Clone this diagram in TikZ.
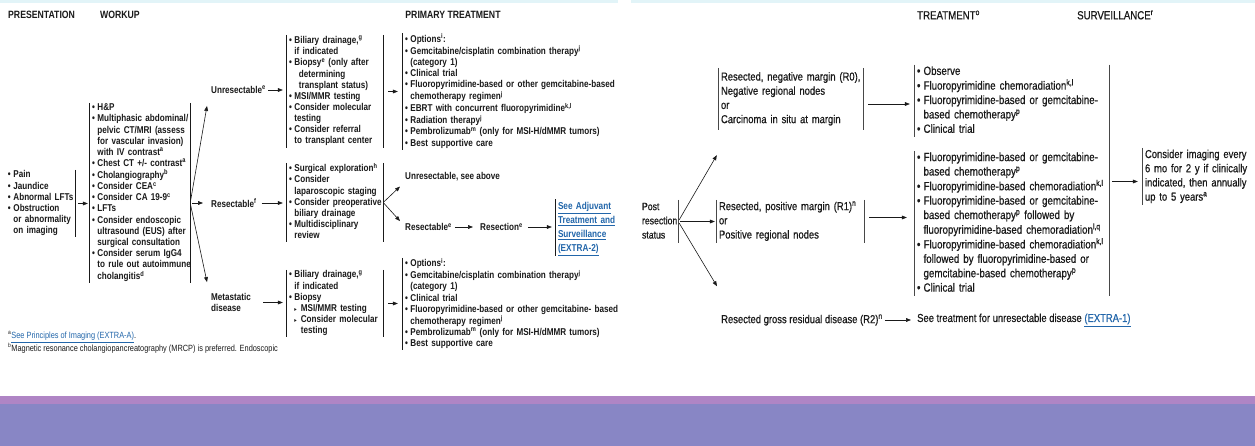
\documentclass[tikz,border=0pt]{standalone}
\usepackage{fontspec}
\setmainfont{Liberation Sans}[FakeStretch=0.82]
\newfontfamily\rfam{Liberation Sans}[FakeStretch=0.82, FakeBold=0.6]
\newfontfamily\symfont{DejaVu Sans}[FakeStretch=0.82]
\usetikzlibrary{arrows.meta,calc}

\definecolor{ink}{HTML}{1A1A1A}
\definecolor{linkblue}{HTML}{2266AA}
\definecolor{lilac}{HTML}{AF85C5}
\definecolor{periwinkle}{HTML}{8886C5}
\definecolor{palecyan}{HTML}{E2F4F8}

% bullet, continuation indent, sub-bullet, superscript, link
\newcommand\bu{\makebox[0.55em][l]{\textbullet}}
\newcommand\ci{\hspace*{0.55em}}
\newcommand\tri{\makebox[0.65em][l]{{\symfont\fontsize{6}{6}\selectfont ▸}}}
\newcommand\sps[1]{\textsuperscript{#1}}
\newcommand\lnk[1]{\textcolor{linkblue}{\underline{#1}}}
\newcommand\rows[1]{\begin{tabular}{@{}l@{}}#1\end{tabular}}

\tikzset{
  lfont/.style={font=\fontsize{9.9}{11.15}\selectfont\bfseries},
  rfont/.style={font=\rfam\fontsize{11.5}{14.2}\selectfont},
  tfont/.style={font=\rfam\fontsize{11.9}{14.4}\selectfont},
  blk/.style={inner xsep=2pt, inner ysep=0pt, align=left, text=ink},
  lbl/.style={inner sep=0pt, anchor=west, align=left, text=ink},
  lhead/.style={lbl, font=\fontsize{10.6}{12}\selectfont\bfseries},
  rhead/.style={lbl, font=\rfam\fontsize{11.8}{13}\selectfont},
  bar/.style={draw=ink, line width=1pt},
  rbar/.style={draw=ink!80, line width=0.8pt},
  arr/.style={draw=ink, line width=0.6pt, -{Triangle[length=5pt,width=3.8pt]}},
}

\begin{document}
\begin{tikzpicture}[x=1pt, y=-1pt]
\useasboundingbox (0,0) rectangle (1255,446);
\fill[white] (0,0) rectangle (1255,446);
\fill[palecyan] (0,0) rectangle (618,3);
\fill[palecyan] (631,0) rectangle (1255,3);
\fill[lilac] (0,396) rectangle (1255,404);
\fill[periwinkle] (0,404) rectangle (1255,446);

% ---------- left panel: headings ----------
\node[lhead] (hpres) at (8,15) {PRESENTATION};
\node[lhead] (hwork) at (100,15) {WORKUP};
\node[lhead, anchor=center] (hprim) at (453,15) {PRIMARY TREATMENT};

% ---------- left panel: boxes ----------
\node[blk, lfont, text width=65pt, minimum height=67pt] (pres) at (40.5,203.5) {\rows{%
\bu Pain\\
\bu Jaundice\\
\bu Abnormal LFTs\\
\bu Obstruction\\
\ci or abnormality\\
\ci on imaging}};

\node[blk, lfont, text width=96pt, minimum height=180pt] (work) at (140,193) {\rows{%
\bu H\&P\\
\bu Multiphasic abdominal/\\
\ci pelvic CT/MRI (assess\\
\ci for vascular invasion)\\
\ci with IV contrast\sps{a}\\
\bu Chest CT +/- contrast\sps{a}\\
\bu Cholangiography\sps{b}\\
\bu Consider CEA\sps{c}\\
\bu Consider CA 19-9\sps{c}\\
\bu LFTs\\
\bu Consider endoscopic\\
\ci ultrasound (EUS) after\\
\ci surgical consultation\\
\bu Consider serum IgG4\\
\ci to rule out autoimmune\\
\ci cholangitis\sps{d}}};

\node[lbl, lfont] (unres) at (211,90) {Unresectable\sps{e}};
\node[lbl, lfont] (resec) at (211,203) {Resectable\sps{f}};
\node[lbl, lfont] (meta) at (211,302.5) {Metastatic\\disease};

\node[blk, lfont, text width=92pt, minimum height=113pt] (c3a) at (335,91.5) {\rows{%
\bu Biliary drainage,\sps{g}\\
\ci if indicated\\
\bu Biopsy\sps{e} (only after\\
\ci\hspace*{4.5pt}determining\\
\ci\hspace*{4.5pt}transplant status)\\
\bu MSI/MMR testing\\
\bu Consider molecular\\
\ci testing\\
\bu Consider referral\\
\ci to transplant center}};

\node[blk, lfont, text width=92pt, minimum height=79pt] (c3b) at (335,202.5) {\rows{%
\bu Surgical exploration\sps{h}\\
\bu Consider\\
\ci laparoscopic staging\\
\bu Consider preoperative\\
\ci biliary drainage\\
\bu Multidisciplinary\\
\ci review}};

\node[blk, lfont, text width=92pt, minimum height=67pt] (c3c) at (335,303.5) {\rows{%
\bu Biliary drainage,\sps{g}\\
\ci if indicated\\
\bu Biopsy\\
\ci\tri MSI/MMR testing\\
\ci\tri Consider molecular\\
\ci\hspace*{0.65em}testing}};

\node[blk, lfont, text width=218pt, minimum height=113pt] (c4a) at (514,91.5) {\rows{%
\bu Options\sps{i}:\\
\bu Gemcitabine/cisplatin combination therapy\sps{j}\\
\ci (category 1)\\
\bu Clinical trial\\
\bu Fluoropyrimidine-based or other gemcitabine-based\\
\ci chemotherapy regimen\sps{j}\\
\bu EBRT with concurrent fluoropyrimidine\sps{k,l}\\
\bu Radiation therapy\sps{j}\\
\bu Pembrolizumab\sps{m} (only for MSI-H/dMMR tumors)\\
\bu Best supportive care}};

\node[blk, lfont, text width=218pt, minimum height=88pt] (c4c) at (514,304) {\rows{%
\bu Options\sps{i}:\\
\bu Gemcitabine/cisplatin combination therapy\sps{j}\\
\ci (category 1)\\
\bu Clinical trial\\
\bu Fluoropyrimidine-based or other gemcitabine- based\\
\ci chemotherapy regimen\sps{j}\\
\bu Pembrolizumab\sps{m} (only for MSI-H/dMMR tumors)\\
\bu Best supportive care}};

\node[lbl, lfont] (unsa) at (405,177) {Unresectable, see above};
\node[lbl, lfont] (res2) at (405,227) {Resectable\sps{e}};
\node[lbl, lfont] (resn) at (480,227) {Resection\sps{e}};
\node[blk, font=\fontsize{10}{14}\selectfont\bfseries, text width=62pt, minimum height=55pt] (adj) at (589,227.5) {\rows{%
\lnk{See Adjuvant}\\
\lnk{Treatment and}\\
\lnk{Surveillance}\\
\lnk{(EXTRA-2)}}};

% footnotes
\node[lbl, font=\fontsize{9}{10}\selectfont, anchor=north west] (fn) at (8,331.5) {%
\sps{a}\lnk{See Principles of Imaging (EXTRA-A)}.\\
\sps{b}Magnetic resonance cholangiopancreatography (MRCP) is preferred. Endoscopic};

% bars of the left panel
\foreach \n in {work,c3a,c3b,c3c}
  \draw[bar] (\n.north west) -- (\n.south west) (\n.north east) -- (\n.south east);
\foreach \n in {c4a,c4c,adj}
  \draw[bar] (\n.north west) -- (\n.south west);
\draw[bar] (pres.north east) -- (pres.south east);

% connectors of the left panel
\draw[arr, shorten <=3pt, shorten >=2pt] (pres.east) -- (pres.east -| work.west);
\coordinate (wb) at ([yshift=-10pt]work.east);
\draw[arr, shorten <=2pt] (wb) -- ([xshift=-4pt,yshift=-12pt]unres.south west);
\draw[arr, shorten <=2pt] (wb) -- ([xshift=-8pt]resec.west);
\draw[arr, shorten <=2pt] (wb) -- ([xshift=-4pt,yshift=11pt]meta.north west);
\draw[arr, shorten <=2pt, shorten >=4pt] (unres.east) -- (unres.east -| c3a.west);
\draw[arr, shorten <=5pt, shorten >=4pt] (resec.east) -- (resec.east -| c3b.west);
\draw[arr, shorten <=12pt, shorten >=4pt] (meta.east) -- (meta.east -| c3c.west);
\draw[arr, shorten <=5pt, shorten >=5pt] (c3a.east) -- (c3a.east -| c4a.west);
\draw[arr, shorten <=5pt, shorten >=5pt] (c3c.east) -- (c3c.east -| c4c.west);
\draw[arr, shorten <=1pt] (c3b.east) -- ([xshift=-5pt,yshift=-5pt]unsa.south west);
\draw[arr, shorten <=1pt] (c3b.east) -- ([xshift=-5pt,yshift=2pt]res2.north west);
\draw[arr, shorten <=3pt, shorten >=7pt] (res2.east) -- (resn.west);
\draw[arr, shorten <=5pt, shorten >=4pt] (resn.east) -- (resn.east -| adj.west);

% ---------- right panel ----------
\node[rhead] (htreat) at (917,15) {TREATMENT\sps{o}};
\node[rhead] (hsurv) at (1077,15) {SURVEILLANCE\sps{r}};

\node[blk, font=\rfam\fontsize{10.6}{14.2}\selectfont, text width=34pt, minimum height=43pt] (post) at (659,221.5) {\rows{%
Post\\resection\\status}};

\node[blk, rfont, text width=140pt, minimum height=62pt] (R0) at (791,99) {\rows{%
Resected, negative margin (R0),\\
Negative regional nodes\\
or\\
Carcinoma in situ at margin}};

\node[blk, rfont, text width=143pt, minimum height=43pt] (R1) at (790.5,221.5) {\rows{%
Resected, positive margin (R1)\sps{n}\\
or\\
Positive regional nodes}};

\node[lbl, rfont] (R2) at (721,320) {Resected gross residual disease (R2)\sps{n}};
\node[lbl, rfont] (r2t) at (917,320) {See treatment for unresectable disease \lnk{(EXTRA-1)}};

\node[blk, tfont, text width=190pt, minimum height=72pt] (T1) at (1012,101) {\rows{%
\bu Observe\\
\bu Fluoropyrimidine chemoradiation\sps{k,l}\\
\bu Fluoropyrimidine-based or gemcitabine-\\
\ci based chemotherapy\sps{p}\\
\bu Clinical trial}};

\node[blk, tfont, text width=190pt, minimum height=143pt] (T2) at (1012,223.5) {\rows{%
\bu Fluoropyrimidine-based or gemcitabine-\\
\ci based chemotherapy\sps{p}\\
\bu Fluoropyrimidine-based chemoradiation\sps{k,l}\\
\bu Fluoropyrimidine-based or gemcitabine-\\
\ci based chemotherapy\sps{p} followed by\\
\ci fluoropyrimidine-based chemoradiation\sps{l,q}\\
\bu Fluoropyrimidine-based chemoradiation\sps{k,l}\\
\ci followed by fluoropyrimidine-based or\\
\ci gemcitabine-based chemotherapy\sps{p}\\
\bu Clinical trial}};

\node[blk, rfont, text width=106pt, minimum height=53pt] (surv) at (1198,176.5) {\rows{%
Consider imaging every\\
6 mo for 2 y if clinically\\
indicated, then annually\\
up to 5 years\sps{a}}};

% bars of the right panel
\foreach \n in {R0,R1}
  \draw[rbar] (\n.north west) -- (\n.south west) (\n.north east) -- (\n.south east);
\foreach \n in {T1,T2,surv}
  \draw[rbar] (\n.north west) -- (\n.south west);
\draw[rbar] (post.north east) -- (post.south east);
\draw[rbar] (T1.north east) -- (T2.south east);

% connectors of the right panel
\draw[arr, shorten <=2pt] (post.east) -- ([xshift=-2pt,yshift=-25pt]R0.south west);
\draw[arr, shorten <=2pt, shorten >=2pt] (post.east) -- (post.east -| R1.west);
\draw[arr, shorten <=2pt] (post.east) -- ([xshift=-4pt,yshift=28pt]R2.north west);
\draw[arr, shorten <=5pt, shorten >=5pt] ([yshift=-5pt]R0.east) -- ([yshift=-5pt]R0.east -| T1.west);
\draw[arr, shorten <=5pt, shorten >=8pt] ([yshift=4pt]R1.east) -- ([yshift=4pt]R1.east -| T2.west);
\draw[arr, shorten <=3pt, shorten >=5pt] ([yshift=-5pt]surv.west -| T2.east) -- ([yshift=-5pt]surv.west);
\draw[arr, shorten <=2pt, shorten >=6pt] (R2.east) -- (r2t.west);
\end{tikzpicture}
\end{document}
